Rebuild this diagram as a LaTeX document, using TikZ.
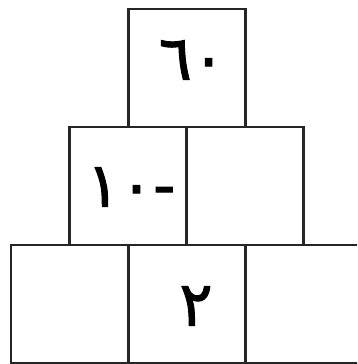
\documentclass[tikz,border=0pt]{standalone}
\usepackage{fontspec}
\newfontfamily\arabicfont[Script=Arabic,FakeBold=1.6]{DejaVu Sans}
\begin{document}
\begin{tikzpicture}[x=1pt,y=-1pt,
  cell/.style={draw=black!85,line width=2.2pt,rectangle,minimum width=117pt,minimum height=118pt,inner sep=0pt},
  num/.style={font=\arabicfont\fontsize{62}{68}\selectfont,inner sep=0pt,anchor=center}]
\useasboundingbox (0,0) rectangle (357,364);
\clip (0,0) rectangle (357,364);
\fill[white] (0,0) rectangle (357,364);
\node[cell] (t) at (187,68) {};
\node[cell] (ml) at (128,186) {};
\node[cell] (mr) at (245,186) {};
\node[cell] (bl) at (69.5,304) {};
\node[cell] (bm) at (187,304) {};
\node[cell] (br) at (304.5,304) {};
\node[num] (t1) at (192,60) {٦٠};
\node[num] (m1) at (131,187) {-١٠};
\node[num] (b1) at (196,306) {٢};
\end{tikzpicture}
\end{document}
